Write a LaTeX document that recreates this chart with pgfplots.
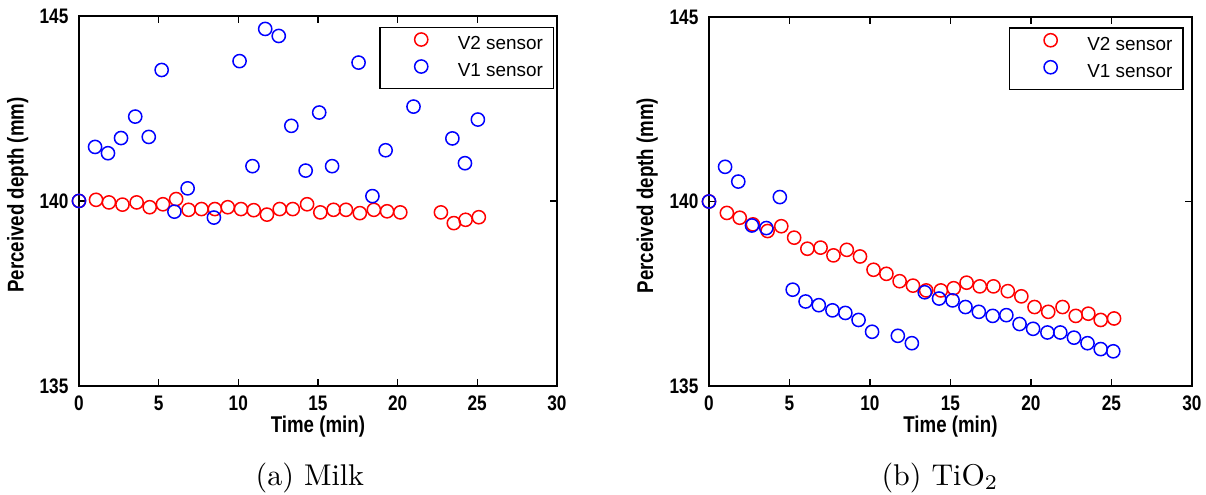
\documentclass[border=0pt]{standalone}
\usepackage{fontspec}
\usepackage{pgfplots}
\pgfplotsset{compat=1.18}
\newfontfamily\mfont[FakeStretch=0.82]{Liberation Sans}
\newfontfamily\legfont{Liberation Sans}
\newcommand\tickfont{\mfont\bfseries\fontsize{7}{8}\selectfont}
\newcommand\labfont{\mfont\bfseries\fontsize{7.6}{9}\selectfont}

\pgfplotsset{
  matlab/.style={
    scale only axis,
    xmin=0, xmax=30, ymin=135, ymax=145,
    xtick={0,5,...,30}, ytick={135,140,145},
    tick align=inside, major tick length=2.2pt,
    axis line style={line width=0.6pt},
    every tick/.style={black, line width=0.4pt},
    /pgf/number format/assume math mode=true,
    tick label style={font=\tickfont},
    xticklabel style={anchor=center, yshift=-5.7pt},
    yticklabel style={anchor=east},
    xlabel={Time (min)}, ylabel={Perceived depth (mm)},
    label style={font=\labfont},
    xlabel style={at={(axis description cs:0.5,-0.11)}, anchor=center},
    ylabel style={at={(axis description cs:-0.128,0.516)}, anchor=center},
    legend style={draw=black, line width=0.5pt, fill=white,
      font=\legfont\fontsize{6.3}{7}\selectfont,
      at={(rel axis cs:1,1)}, anchor=north east,
      inner xsep=1.5pt, inner ysep=1.2pt, column sep=8pt,
      nodes={inner ysep=1.5pt, inner xsep=2pt, text height=4.7pt, text depth=1.3pt}},
    legend cell align=left,
    legend image code/.code={%
      \path[draw=none] (-1.5pt,0pt) -- (10.7pt,0pt);
      \path[##1, draw=none] plot[only marks] coordinates {(10.7pt,1.7pt)};},
  },
  v2/.style={only marks, mark=o, mark size=2.2pt, color=red, mark options={line width=0.5pt, draw=red}},
  v1/.style={only marks, mark=o, mark size=2.2pt, color=blue, mark options={line width=0.5pt, draw=blue}},
}

\begin{document}
\begin{tikzpicture}
\useasboundingbox (0,0) rectangle (402pt,-165pt);

% (a) Milk
\begin{axis}[matlab, at={(26.33pt,-5.33pt)}, anchor=north west,
  width=159.3pt, height=123.3pt,
  legend style={xshift=-0.9pt, yshift=-3.6pt}]
\addplot[v2] coordinates {
(0,140.0) (1.07,140.03) (1.88,139.96) (2.73,139.90) (3.62,139.96)
(4.44,139.83) (5.27,139.91) (6.10,140.05) (6.88,139.76) (7.69,139.78)
(8.53,139.78) (9.34,139.83) (10.17,139.78) (10.97,139.75) (11.80,139.63)
(12.60,139.78) (13.42,139.78) (14.32,139.91) (15.15,139.69) (15.98,139.76)
(16.76,139.76) (17.63,139.67) (18.51,139.76) (19.34,139.72) (20.17,139.69)
(22.72,139.69) (23.53,139.40) (24.27,139.49) (25.10,139.56)
};
\addlegendentry{V2 sensor}
\addplot[v1] coordinates {
(0,140.0) (1.01,141.46) (1.82,141.29) (2.64,141.70) (3.53,142.28)
(4.38,141.73) (5.19,143.54) (5.99,139.71) (6.82,140.34) (8.47,139.55)
(10.08,143.78) (10.89,140.94) (11.69,144.65) (12.54,144.46) (13.33,142.03)
(14.23,140.82) (15.08,142.39) (15.89,140.94) (17.55,143.74) (18.42,140.13)
(19.25,141.37) (21.00,142.55) (23.44,141.69) (24.23,141.02) (25.04,142.20)
};
\addlegendentry{V1 sensor}
\end{axis}

% (b) TiO2
\begin{axis}[matlab, at={(236.33pt,-5.67pt)}, anchor=north west,
  width=161pt, height=123pt,
  legend style={xshift=-2.8pt, yshift=-3.5pt}]
\addplot[v2] coordinates {
(0,140.0) (1.11,139.69) (1.91,139.56) (2.73,139.38) (3.64,139.20)
(4.49,139.33) (5.29,139.02) (6.11,138.72) (6.93,138.75) (7.73,138.54)
(8.56,138.69) (9.38,138.51) (10.22,138.15) (11.02,138.04) (11.84,137.84)
(12.67,137.72) (13.49,137.59) (14.40,137.59) (15.20,137.65) (16.00,137.80)
(16.82,137.70) (17.67,137.70) (18.56,137.57) (19.40,137.43) (20.22,137.14)
(21.07,137.01) (21.96,137.14) (22.78,136.90) (23.56,136.96) (24.33,136.79)
(25.16,136.83)
};
\addlegendentry{V2 sensor}
\addplot[v1] coordinates {
(0,140.0) (1.00,140.94) (1.82,140.54) (2.67,139.35) (3.56,139.28)
(4.40,140.12) (5.20,137.61) (6.00,137.29) (6.82,137.19) (7.67,137.05)
(8.47,136.98) (9.29,136.79) (10.13,136.47) (11.73,136.36) (12.60,136.16)
(13.40,137.54) (14.29,137.37) (15.13,137.32) (15.93,137.14) (16.76,137.01)
(17.62,136.90) (18.47,136.92) (19.29,136.68) (20.13,136.55) (21.02,136.45)
(21.82,136.45) (22.67,136.31) (23.51,136.16) (24.33,136.00) (25.11,135.94)
};
\addlegendentry{V1 sensor}
\end{axis}

\node[font=\fontsize{10}{12}\selectfont] at (103.3pt,-159.2pt) {(a) Milk};
\node[font=\fontsize{10}{12}\selectfont] at (313.3pt,-159.2pt) {(b) TiO$_2$};
\end{tikzpicture}
\end{document}
